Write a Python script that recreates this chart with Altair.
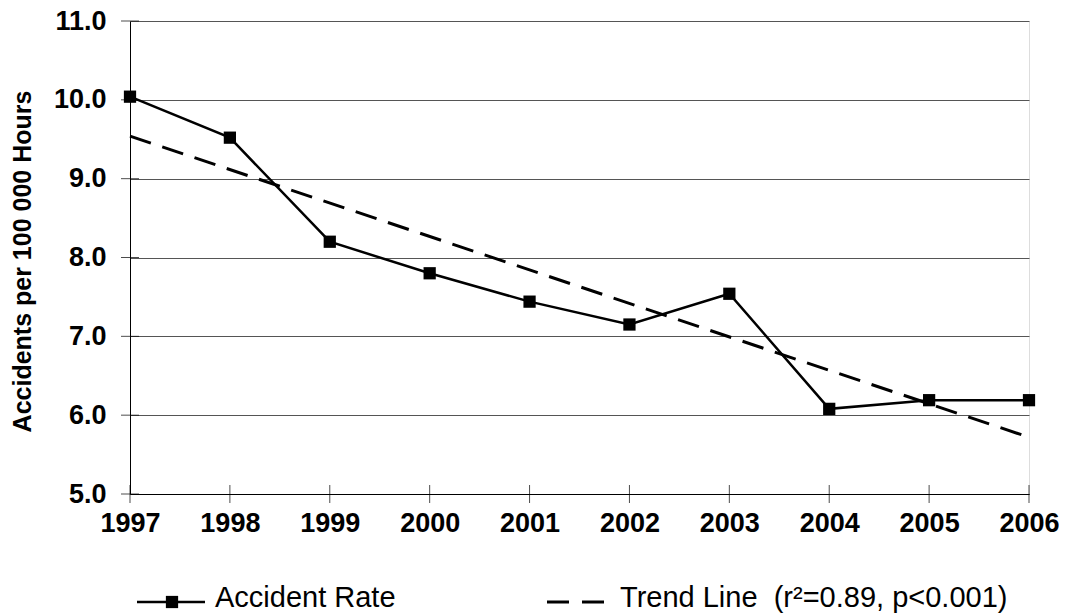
import altair as alt
import pandas as pd

years = [1997, 1998, 1999, 2000, 2001, 2002, 2003, 2004, 2005, 2006]
rate = [10.04, 9.52, 8.20, 7.80, 7.44, 7.15, 7.54, 6.08, 6.19, 6.19]
trend_years = [1997, 2006]
trend_vals = [9.54, 5.72]
y_ticks = [5, 6, 7, 8, 9, 10, 11]
legend_labels = ["Accident Rate", "Trend Line \u00a0(r\u00b2=0.89, p<0.001)"]

FONT = "Liberation Sans, Arial, sans-serif"
W, H = 899, 473

df = pd.DataFrame({"year": years, "rate": rate})
tdf = pd.DataFrame({"year": trend_years, "rate": trend_vals})
ydf = pd.DataFrame({"v": y_ticks})
one = pd.DataFrame({"k": [0]})

xscale = alt.Scale(domain=[1997, 2006], nice=False, zero=False)
yscale = alt.Scale(domain=[5, 11], nice=False, zero=False)

base = alt.Chart(df)

line = base.mark_line(color="black", strokeWidth=2.5).encode(
    x=alt.X("year:Q", scale=xscale,
            axis=alt.Axis(values=years, format="d", title=None, ticks=False,
                          grid=False, domainColor="black", domainWidth=1,
                          labelFlush=False, labelOverlap=False, labelBound=False,
                          labelFont=FONT, labelFontSize=27, labelFontWeight="bold",
                          labelColor="black", labelPadding=16)),
    y=alt.Y("rate:Q", scale=yscale,
            axis=alt.Axis(values=y_ticks, format=".1f", ticks=False,
                          grid=True, gridColor="#555555", gridWidth=1,
                          domainColor="black", domainWidth=1,
                          labelFlush=False, labelOverlap=False,
                          labelFont=FONT, labelFontSize=27, labelFontWeight="bold",
                          labelColor="black", labelPadding=24,
                          title="Accidents per 100 000 Hours",
                          titleFont=FONT, titleFontSize=25, titleFontWeight="bold",
                          titleColor="black", titleX=-108, titleY=240,
                          titleAlign="center", titleBaseline="middle", titleAngle=-90)),
)

points = base.mark_square(color="black", size=150, opacity=1).encode(
    x="year:Q", y="rate:Q"
)

trend = alt.Chart(tdf).mark_line(color="black", strokeWidth=3, strokeDash=[22, 12]).encode(
    x="year:Q", y="rate:Q"
)

xticks = alt.Chart(df).mark_tick(color="black", size=18, thickness=1, orient="vertical").encode(
    x="year:Q", y=alt.datum(5)
)
yticks = alt.Chart(ydf).mark_tick(color="black", size=18, thickness=1, orient="horizontal").encode(
    y="v:Q", x=alt.datum(1997)
)

# legend
leg_line = alt.Chart(one).mark_rule(color="black", strokeWidth=2.5).encode(
    x=alt.value(7), x2=alt.value(75), y=alt.value(581)
)
leg_sq = alt.Chart(one).mark_square(color="black", size=150, opacity=1).encode(
    x=alt.value(42), y=alt.value(581)
)
leg_dash = alt.Chart(one).mark_rule(color="black", strokeWidth=3, strokeDash=[22, 13]).encode(
    x=alt.value(417), x2=alt.value(474), y=alt.value(581)
)
leg_t1 = alt.Chart(one).mark_text(font=FONT, fontSize=29, align="left", baseline="alphabetic",
                                  color="black", text=legend_labels[0]).encode(
    x=alt.value(85), y=alt.value(586)
)
leg_t2 = alt.Chart(one).mark_text(font=FONT, fontSize=29, align="left", baseline="alphabetic",
                                  color="black", text=legend_labels[1]).encode(
    x=alt.value(490), y=alt.value(586)
)

chart = alt.layer(
    line, trend, points, xticks, yticks, leg_line, leg_sq, leg_dash, leg_t1, leg_t2
).properties(
    width=W, height=H,
    autosize=alt.AutoSizeParams(type="none"),
    padding={"left": 122, "top": 13, "right": 30, "bottom": 120},
).configure_view(stroke=None).configure(background="white")

chart.save("out.html", embed_options={"renderer": "svg", "actions": False})
